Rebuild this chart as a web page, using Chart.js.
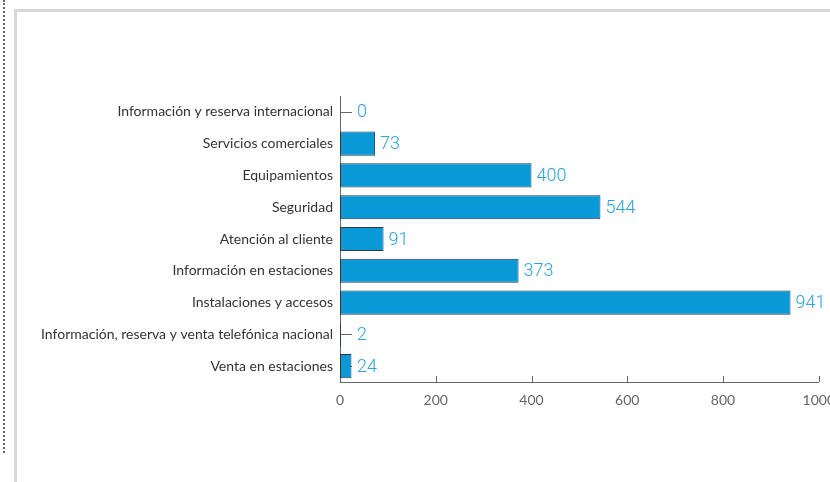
<!DOCTYPE html>
<html>
<head>
<meta charset="utf-8">
<script src="https://cdn.jsdelivr.net/npm/chart.js@4"></script>
<style>
	html, body { margin: 0; padding: 0; background: #fff; overflow: hidden; }
	body { width: 830px; height: 482px; position: relative; }
	.dots { position: absolute; left: 3px; top: 0; height: 453px; border-left: 2px dotted #666; }
	.frame { position: absolute; left: 14px; top: 9px; width: 830px; height: 480px; border-top: 3px solid #d8d8d8; border-left: 3px solid #d8d8d8; }
	.wrap { position: absolute; left: 0; top: 0; width: 845px; height: 482px; }
</style>
</head>
<body>
<div class="dots"></div>
<div class="frame"></div>
<div class="wrap"><canvas id="quejasChart"></canvas></div>
<script>
const categories = [
	'Información y reserva internacional',
	'Servicios comerciales',
	'Equipamientos',
	'Seguridad',
	'Atención al cliente',
	'Información en estaciones',
	'Instalaciones y accesos',
	'Información, reserva y venta telefónica nacional',
	'Venta en estaciones',
]
const values = [0, 73, 400, 544, 91, 373, 941, 2, 24]
const xTicks = [0, 200, 400, 600, 800, 1000]

// tick marks drawn inward (under the bars), then value labels on top
const marksPlugin = {
	id: 'marks',
	beforeDatasetsDraw(chart) {
		const ctx = chart.ctx
		const x = chart.scales.x
		const y = chart.scales.y
		ctx.save()
		ctx.strokeStyle = '#666'
		ctx.lineWidth = 1
		xTicks.forEach((t) => {
			const px = Math.round(x.getPixelForValue(t)) + 0.5
			ctx.beginPath()
			ctx.moveTo(px, x.top)
			ctx.lineTo(px, x.top - 6)
			ctx.stroke()
		})
		categories.forEach((c, i) => {
			const py = Math.round(y.getPixelForValue(i)) + 0.5
			ctx.beginPath()
			ctx.moveTo(y.right, py)
			ctx.lineTo(y.right + 12, py)
			ctx.stroke()
		})
		ctx.restore()
	},
	afterDatasetsDraw(chart) {
		const ctx = chart.ctx
		const y = chart.scales.y
		ctx.save()
		ctx.fillStyle = '#2ba3de'
		ctx.font = '300 18px Roboto'
		ctx.textBaseline = 'middle'
		chart.getDatasetMeta(0).data.forEach((bar, i) => {
			const px = Math.max(bar.x, y.right + 12) + 5
			ctx.fillText(String(values[i]), px, bar.y + 1)
		})
		ctx.restore()
	},
}

window.addEventListener('DOMContentLoaded', () => {
	const ctx = document.getElementById('quejasChart')
	new Chart(ctx.getContext('2d'), {
		type: 'bar',
		data: {
			labels: categories,
			datasets: [
				{
					data: values,
					backgroundColor: '#0899d6',
					borderColor: '#2a3a44',
					borderWidth: 1,
					borderSkipped: false,
					barPercentage: 0.76,
					categoryPercentage: 1,
				},
			],
		},
		options: {
			indexAxis: 'y',
			responsive: true,
			maintainAspectRatio: false,
			animation: false,
			layout: {
				padding: { top: 96, right: 21, bottom: 68, left: 0 },
			},
			plugins: {
				legend: { display: false },
				tooltip: { enabled: false },
			},
			scales: {
				x: {
					min: 0,
					max: 1000,
					afterBuildTicks: (scale) => {
						scale.ticks = xTicks.map((v) => ({ value: v }))
					},
					afterFit: (scale) => {
						scale.height = 32
					},
					grid: { display: false, drawTicks: false },
					border: { display: true, color: '#666', width: 1 },
					ticks: {
						color: '#666',
						padding: 10,
						callback: (v) => String(v),
						font: { family: 'Lato', size: 14 },
					},
				},
				y: {
					afterFit: (scale) => {
						scale.width = 340
					},
					grid: { display: false, drawTicks: false },
					border: { display: true, color: '#666', width: 1 },
					ticks: {
						color: '#333',
						padding: 7,
						autoSkip: false,
						font: { family: 'Lato', size: 14 },
					},
				},
			},
		},
		plugins: [marksPlugin],
	})
})
</script>
</body>
</html>
